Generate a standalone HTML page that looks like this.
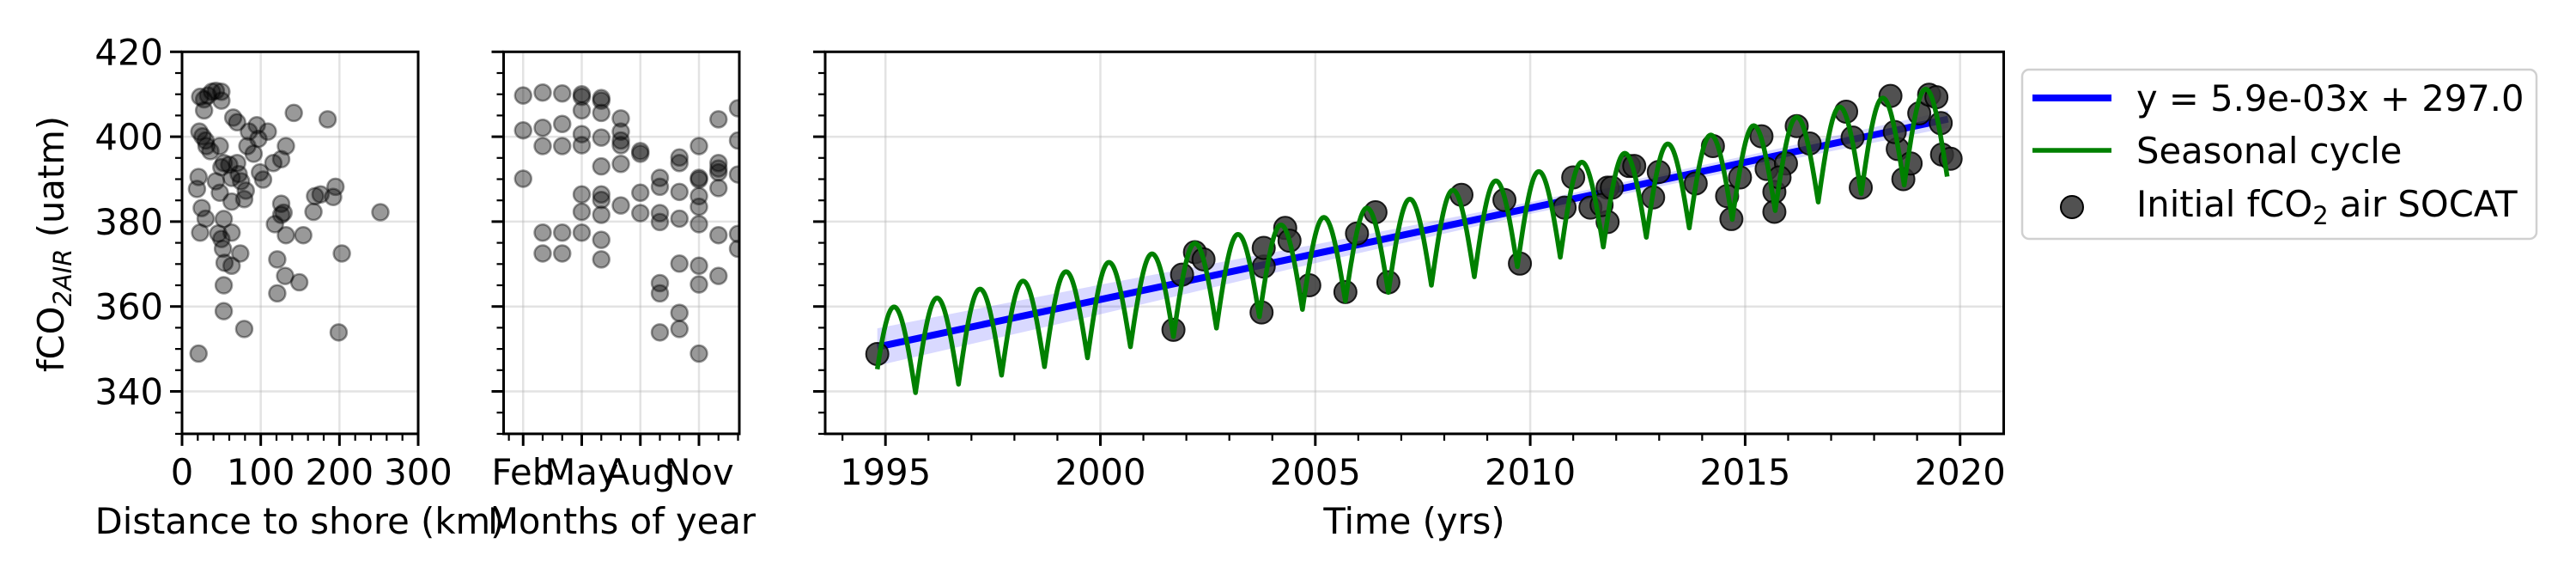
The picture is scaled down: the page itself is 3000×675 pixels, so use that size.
<!DOCTYPE html>
<html><head><meta charset="utf-8"><title>fCO2 air chart</title>
<style>
html,body{margin:0;padding:0;background:#fff;}
svg{display:block;font-family:"DejaVu Sans","Liberation Sans",sans-serif;}
text{font-size:41.7px;fill:#000;}
</style></head>
<body>
<svg id="chart" xmlns="http://www.w3.org/2000/svg" width="3000" height="675" viewBox="0 0 3000 675">
<defs>
<clipPath id="clip1"><rect x="212" y="60.3" width="275" height="444.6"/></clipPath>
<clipPath id="clip2"><rect x="586.5" y="60.3" width="274.5" height="444.6"/></clipPath>
<clipPath id="clip3"><rect x="961" y="60.3" width="1372.5" height="444.6"/></clipPath>
</defs>
<g id="p1"></g>
<g id="p2"></g>
<g id="p3"></g>
<text transform="translate(74,284) rotate(-90)" text-anchor="middle">fCO<tspan font-style="italic" font-size="29px" dy="9">2AIR</tspan><tspan dy="-9"> (uatm)</tspan></text>
<text x="349" y="621" text-anchor="middle">Distance to shore (km)</text>
<text x="724" y="621" text-anchor="middle">Months of year</text>
<text x="1647" y="621" text-anchor="middle">Time (yrs)</text>
<g>
<rect x="2355" y="81" width="599" height="197" rx="8" fill="#fff" fill-opacity="0.8" stroke="#d0d0d0" stroke-width="2.5"/>
<line x1="2367" y1="114" x2="2459" y2="114" stroke="#0000ff" stroke-width="8"/>
<text x="2488" y="129">y = 5.9e-03x + 297.0</text>
<line x1="2367" y1="175" x2="2459" y2="175" stroke="#008000" stroke-width="5.5"/>
<text x="2488" y="190">Seasonal cycle</text>
<ellipse cx="2413" cy="241" rx="13" ry="13" fill="#333" fill-opacity="0.85" stroke="#000" stroke-width="2"/>
<text x="2488" y="252">Initial fCO<tspan font-size="29px" dy="9">2</tspan><tspan dy="-9"> air SOCAT</tspan></text>
</g>
</svg>
<script>
// ---------- data ----------
const yTicks = [340, 360, 380, 400, 420];
const distTicks = [0, 100, 200, 300];
const monthTickVals = [2, 5, 8, 11];
const monthTickLabels = ["Feb", "May", "Aug", "Nov"];
const yearTicks = [1995, 2000, 2005, 2010, 2015, 2020];

const distKm = [23,28,33,38,43,50,50,28,22,26,30,31,36,48,65,70,85,95,109,97,83,91,99,103,116,126,132,142,185,21,19,25,30,23,43,50,53,60,48,70,72,63,75,81,79,63,53,63,46,50,52,54,63,74,53,53,79,21,118,121,131,121,126,129,126,132,154,149,169,167,176,192,195,203,199,252];
const distFco2 = [409.4,408.8,409.7,410.6,410.8,410.6,408.5,406.2,401.2,400.1,399.1,397.8,396.6,397.8,404.5,403.4,401.2,402.7,401.2,399.5,397.8,396,391.6,389.9,393.8,394.7,397.8,405.6,404.1,390.5,387.7,383.2,380.7,377.4,389.5,392.8,393.8,393.4,386.8,393.8,391.2,390.3,389.5,387.3,385.3,384.7,380.6,377.4,377.2,375.9,373.6,370.3,369.6,372.5,365,358.9,354.7,348.9,379.4,371.1,367.2,363.1,384.2,382.1,381.6,376.8,376.8,365.7,386,382.3,386.4,385.8,388.2,372.5,353.9,382.2];

const monthVals = [2,2,2, 3,3,3,3,3, 4,4,4,4,4, 5,5,5,5,5,5,5,5, 6,6,6,6,6,6,6,6,6,6, 7,7,7,7,7,7, 8,8,8,8, 9,9,9,9,9,9,9, 10,10,10,10,10,10,10, 11,11,11,11,11,11,11,11,11, 12,12,12,12,12,12,12, 13,13,13,13,13];
const monthFco2 = [409.7,401.5,390.1, 410.4,402.1,397.8,377.4,372.5, 410.2,403,397.8,377.4,372.5, 410,409.4,406.2,400.6,398,386.4,382.3,377.4, 409.1,408.5,405.6,399.8,393,386.4,385.1,381.6,375.7,371.1, 404.3,401.2,399.1,398,393.6,383.8, 396.6,396,386.8,382, 390.3,388.2,382,379.9,365.5,363.1,353.9, 395.1,393.8,387,380.7,370.1,358.5,354.7, 397.8,390.3,389.9,386,383.5,379.4,369.6,365.2,348.9, 404.1,393.8,392.5,391.6,387.9,376.8,367.2, 406.7,399.1,391.1,377.1,373.6];

const socatYears = [1994.81,2001.7,2001.9,2002.2,2002.4,2003.75,2003.8,2003.8,2004.3,2004.4,2004.86,2005.7,2005.97,2006.4,2006.7,2008.4,2009.4,2009.76,2010.8,2011.0,2011.4,2011.8,2011.8,2012.3,2011.66,2011.9,2012.42,2012.86,2012.99,2013.85,2014.25,2014.58,2014.68,2014.88,2015.38,2015.5,2015.68,2015.68,2015.95,2016.2,2016.5,2015.8,2017.35,2017.5,2017.69,2018.38,2018.55,2018.68,2018.85,2019.05,2019.28,2019.45,2019.55,2019.58,2019.78,2018.48];
const socatFco2 = [348.8,354.5,367.5,372.8,371.1,358.6,369.4,373.8,378.5,375.5,365,363.4,377.2,382.2,365.7,386.3,385.1,370.1,383.3,390.4,383.3,379.9,388,393.1,383.9,388,393.1,385.7,391.7,389,397.8,386,380.6,390.4,400.1,392.4,387,382.3,393.7,402.5,398.4,390.4,405.9,399.8,388,409.6,397.1,390,393.7,405.5,409.9,409.3,403.2,395.8,394.8,401.1];

const trendCoef = [5.9e-3, 297.0];           // slope per day since 1970, intercept
const trendRange = [1994.81, 2019.72];
const bandYears = [1994.81, 2000, 2005, 2010, 2015, 2019.72];
const bandHalf = [4.4, 3.5, 2.2, 1.4, 1.5, 2.0];

const cycleYears = [1995,1996,1997,1998,1999,2000,2001,2002,2003,2004,2005,2006,2007,2008,2009,2010,2011,2012,2013,2014,2015,2016,2017,2018,2019];
const cyclePeaks = [359.9,362,364.1,366,368.2,370.4,372.4,374.9,377,379.2,381,383.2,385.3,387.4,389.6,391.8,394,396.1,398.3,400.4,402.6,404.6,407,409.1,411.2];
const cycleTroughs = [339.7,341.7,343.8,345.8,347.9,350.5,352.9,354.9,357.6,359.3,361.3,363.3,365,367,369.4,371.6,374,376.3,378.5,380.5,382.6,384.6,386.6,388.6,390.6];
const cycleStartTrough = [337.7];

// ---------- scales ----------
const NS = "http://www.w3.org/2000/svg";
const TOP = 60.3, BOT = 504.9;
function Y(v){ return TOP + (420 - v) * 4.94; }
function X1(v){ return 212 + v * 275 / 300; }
function X2(m){ return 586.5 + (m - 1) * 22.75; }
function X3(yr){ return 1031.2 + (yr - 1995) * 50.06; }
function trend(yr){ return trendCoef[1] + trendCoef[0] * (yr - 1970) * 365.25; }

function mk(parent, tag, attrs){
  const el = document.createElementNS(NS, tag);
  for (const k in attrs) el.setAttribute(k, attrs[k]);
  parent.appendChild(el);
  return el;
}

function frame(g, x0, x1, xTicksMajor, xLabels, xMinor, xScale, showYLabels, clipId){
  yTicks.forEach(v => {
    const l = mk(g, "line", {x1:x0, x2:x1, y1:Y(v), y2:Y(v), stroke:"#b0b0b0", "stroke-opacity":0.35, "stroke-width":2.5});
    
    
  });
  xTicksMajor.forEach(v => {
    const l = mk(g, "line", {x1:xScale(v), x2:xScale(v), y1:TOP, y2:BOT, stroke:"#b0b0b0", "stroke-opacity":0.35, "stroke-width":2.5});
    
    
  });
  const plot = mk(g, "g", {"clip-path":"url(#" + clipId + ")"});
  
  
  for (let v = 330; v <= 420; v += 5) {
    const major = v % 20 === 0;
    const t = mk(g, "line", {x1:x0, x2:x0 - (major ? 14 : 8), y1:Y(v), y2:Y(v), stroke:"#000", "stroke-width":major ? 3 : 2.2});
    
    
  }
  if (showYLabels) yTicks.forEach(v => {
    const t = mk(g, "text", {x:x0 - 22, y:Y(v) + 15, "text-anchor":"end"});
    t.textContent = v;
    
    
  });
  xMinor.forEach(v => {
    const t = mk(g, "line", {x1:xScale(v), x2:xScale(v), y1:BOT, y2:BOT + 8, stroke:"#000", "stroke-width":2.2});
    
    
  });
  xTicksMajor.forEach((v, i) => {
    const t = mk(g, "line", {x1:xScale(v), x2:xScale(v), y1:BOT, y2:BOT + 14, stroke:"#000", "stroke-width":3});
    
    
    const lb = mk(g, "text", {x:xScale(v), y:564, "text-anchor":"middle"});
    lb.textContent = xLabels[i];
    
    
  });
  return plot;
}
function spine(g, x0, x1){
  const r = mk(g, "rect", {x:x0, y:TOP, width:x1 - x0, height:BOT - TOP, fill:"none", stroke:"#000", "stroke-width":3});
  
  
}

// ---------- panel 1 ----------
const g1 = document.getElementById("p1");
const minor1 = []; for (let v = 20; v < 300; v += 20) if (v % 100) minor1.push(v);
const plot1 = frame(g1, 212, 487, distTicks, distTicks.map(String), minor1, X1, true, "clip1");
distKm.forEach((d, i) => {
  const c = mk(plot1, "circle", {cx:X1(d), cy:Y(distFco2[i]), r:9.5, fill:"#000", "fill-opacity":0.4, stroke:"#000", "stroke-opacity":0.4, "stroke-width":2.5});
  
  
});
spine(g1, 212, 487);

// ---------- panel 2 ----------
const g2 = document.getElementById("p2");
const plot2 = frame(g2, 586.5, 861, monthTickVals, monthTickLabels, [1.27,3,4,6,7,9,10,12,13], X2, false, "clip2");
monthVals.forEach((m, i) => {
  const c = mk(plot2, "circle", {cx:X2(m), cy:Y(monthFco2[i]), r:9.5, fill:"#000", "fill-opacity":0.4, stroke:"#000", "stroke-opacity":0.4, "stroke-width":2.5});
  
  
});
spine(g2, 586.5, 861);

// ---------- panel 3 ----------
const g3 = document.getElementById("p3");
const minor3 = []; for (let y = 1994; y <= 2020; y++) if (y % 5) minor3.push(y);
const plot3 = frame(g3, 961, 2333.5, yearTicks, yearTicks.map(String), minor3, X3, false, "clip3");

const bandTop = [], bandBot = [];
bandYears.forEach((yr, i) => {
  bandTop.push(X3(yr).toFixed(1) + "," + Y(trend(yr) + bandHalf[i]).toFixed(1));
  bandBot.unshift(X3(yr).toFixed(1) + "," + Y(trend(yr) - bandHalf[i]).toFixed(1));
});
const band = mk(plot3, "polygon", {points: bandTop.concat(bandBot).join(" "), fill:"#0000ff", "fill-opacity":0.15});



const tl = mk(plot3, "line", {x1:X3(trendRange[0]), y1:Y(trend(trendRange[0])), x2:X3(trendRange[1]), y2:Y(trend(trendRange[1])), stroke:"#0000ff", "stroke-width":8});



socatYears.forEach((yr, i) => {
  const c = mk(plot3, "circle", {cx:X3(yr), cy:Y(socatFco2[i]), r:13, fill:"#333", "fill-opacity":0.85, stroke:"#000", "stroke-opacity":0.85, "stroke-width":2});
  
  
});

const cyclePts = [];
const cycleStart = trendRange[0];
for (let i = 0; i < cycleYears.length; i++) {
  const k = cycleYears[i];
  const prevT = i === 0 ? cycleStartTrough[0] : cycleTroughs[i - 1];
  const P = cyclePeaks[i], T = cycleTroughs[i];
  for (let s = 0; s <= 50; s++) {
    const t = k - 0.3 + s / 100;
    if (t < cycleStart) continue;
    cyclePts.push([t, prevT + (P - prevT) * Math.sin(Math.PI * (t - (k - 0.3)))]);
  }
  for (let s = 1; s <= 50; s++) {
    const t = k + 0.2 + s / 100;
    if (t > trendRange[1]) break;
    cyclePts.push([t, T + (P - T) * Math.sin(Math.PI * ((k + 0.7) - t))]);
  }
}
const sc = mk(plot3, "polyline", {points: cyclePts.map(p => X3(p[0]).toFixed(1) + "," + Y(p[1]).toFixed(1)).join(" "), fill:"none", stroke:"#008000", "stroke-width":5.5, "stroke-linejoin":"round"});


spine(g3, 961, 2333.5);
</script>
</body></html>
